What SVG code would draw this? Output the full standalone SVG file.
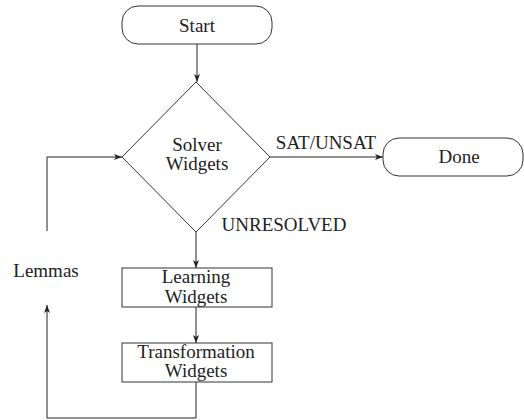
<svg xmlns="http://www.w3.org/2000/svg" width="524" height="420" viewBox="0 0 524 420">
<style>
.s{fill:#fff;stroke:#333;stroke-width:1}
.t{font-family:"Liberation Serif","DejaVu Serif",serif;font-size:19px;fill:#222;text-anchor:middle}
.c{fill:none;stroke:#222;stroke-width:1}
</style>
<defs>
<marker id="a" viewBox="0 0 8 6" refX="8" refY="3" markerWidth="8" markerHeight="6" markerUnits="userSpaceOnUse" orient="auto">
<path d="M0,0 L8,3 L0,6 L2,3 Z" fill="#222"/>
</marker>
</defs>
<g id="connectors">
<path class="c" d="M197,44 V82" marker-end="url(#a)"/>
<path class="c" d="M270,157 H383" marker-end="url(#a)"/>
<path class="c" d="M196,232 V268" marker-end="url(#a)"/>
<path class="c" d="M196,307 V343" marker-end="url(#a)"/>
<path class="c" d="M196,382 V418 H47 V305" marker-end="url(#a)"/>
<path class="c" d="M47,231 V157 H122" marker-end="url(#a)"/>
<text class="t" x="326" y="149">SAT/UNSAT</text>
<text class="t" x="284" y="231">UNRESOLVED</text>
<text class="t" x="46" y="277">Lemmas</text>
</g>
<g id="start">
<rect class="s" x="122" y="6" width="150" height="38" rx="16" ry="16"/>
<text class="t" x="197" y="32">Start</text>
</g>
<g id="solver">
<polygon class="s" points="196,82 270,157 196,232 122,157"/>
<text class="t" x="197" y="151">Solver</text>
<text class="t" x="197" y="170">Widgets</text>
</g>
<g id="done">
<rect class="s" x="383" y="138" width="140" height="38" rx="16" ry="16"/>
<text class="t" x="459" y="163">Done</text>
</g>
<g id="learning">
<rect class="s" x="122" y="268" width="150" height="39"/>
<text class="t" x="196" y="283">Learning</text>
<text class="t" x="196" y="303">Widgets</text>
</g>
<g id="transformation">
<rect class="s" x="122" y="343" width="150" height="39"/>
<text class="t" x="196" y="358">Transformation</text>
<text class="t" x="196" y="377">Widgets</text>
</g>
</svg>
